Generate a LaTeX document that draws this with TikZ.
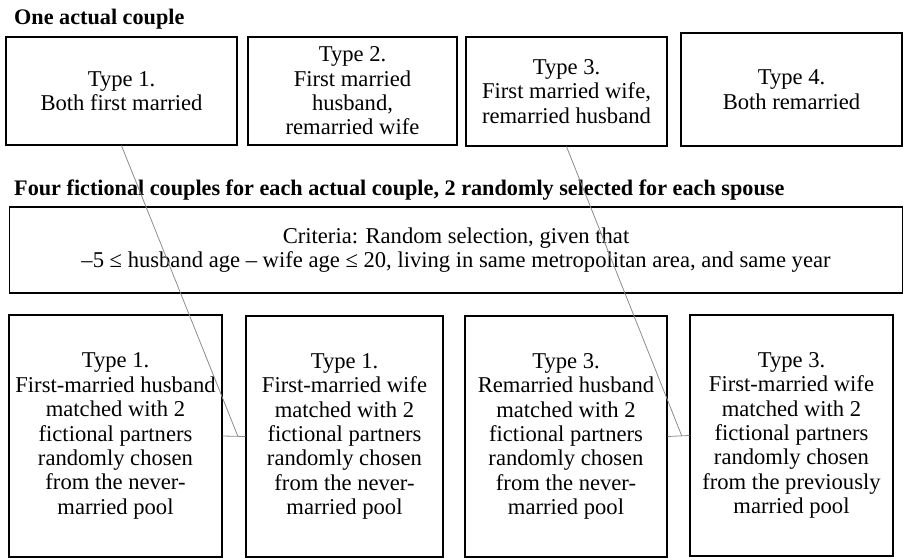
\documentclass[tikz,border=0pt]{standalone}
\usepackage{fontspec}
\setmainfont{Liberation Serif}
\usepackage{tikz}
\usetikzlibrary{positioning,calc}

\begin{document}
\begin{tikzpicture}[x=1pt,y=-1pt,
  cbox/.style={draw,line width=1.2pt,align=center,inner sep=1pt,font=\fontsize{22.6}{24.4}\selectfont},
  heading/.style={anchor=base west,inner sep=0pt,font=\bfseries\fontsize{22.2}{24}\selectfont},
  link/.style={draw=black!45,line width=0.8pt}]
\useasboundingbox (0,0) rectangle (904,559);

% actual couples
\node[heading] (hone) at (14,25) {One actual couple};
\node[cbox,minimum width=231pt,minimum height=108pt] (t1) at (121.5,91) {Type 1.\\Both first married};
\node[cbox,minimum width=209pt,minimum height=108pt] (t2) at (352.5,91) {Type 2.\\First married\\husband,\\remarried wife};
\node[cbox,minimum width=201pt,minimum height=109pt] (t3) at (566.5,91.5) {Type 3.\\First married wife,\\remarried husband};
\node[cbox,minimum width=221pt,minimum height=113pt] (t4) at (791.5,89.5) {Type 4.\\Both remarried};

% fictional couples
\node[heading] (hfour) at (14,195) {Four fictional couples for each actual couple, 2 randomly selected for each spouse};
\node[cbox,minimum width=893pt,minimum height=86pt] (crit) at (456,250) {Criteria: Random selection, given that\\–5 ≤ husband age – wife age ≤ 20, living in same metropolitan area, and same year};

\node[cbox,minimum width=213pt,minimum height=242pt] (b1) at (115.5,436) {Type 1.\\First-married husband\\matched with 2\\fictional partners\\randomly chosen\\from the never-\\married pool};
\node[cbox,minimum width=197pt,minimum height=241pt] (b2) at (344.5,436.5) {Type 1.\\First-married wife\\matched with 2\\fictional partners\\randomly chosen\\from the never-\\married pool};
\node[cbox,minimum width=202pt,minimum height=241pt] (b3) at (566,436.5) {Type 3.\\Remarried husband\\matched with 2\\fictional partners\\randomly chosen\\from the never-\\married pool};
\node[cbox,minimum width=203pt,minimum height=241pt] (b4) at (791.5,435.5) {Type 3.\\First-married wife\\matched with 2\\fictional partners\\randomly chosen\\from the previously\\married pool};

% links
\coordinate (j1) at ($(b1.east)!0.67!(b2.west)$);
\coordinate (j3) at ($(b3.east)!0.65!(b4.west)$);
\draw[link] (b1.east) -- (b2.west);
\draw[link] (t1.south) -- (j1);
\draw[link] (b3.east) -- (b4.west);
\draw[link] (t3.south) -- (j3);
\end{tikzpicture}
\end{document}
